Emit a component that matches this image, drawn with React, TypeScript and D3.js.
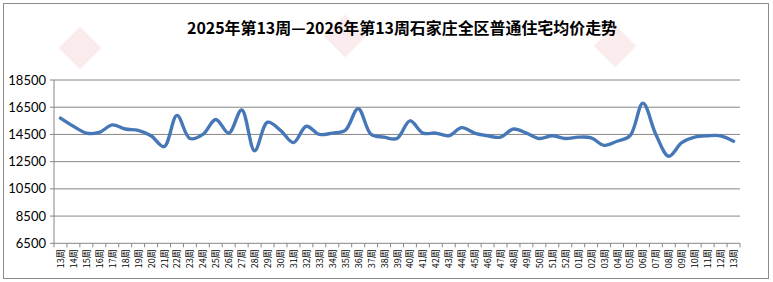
import React from "react";
import * as d3 from "d3";

const weeks: string[] = [
  "13周","14周","15周","16周","17周","18周","19周","20周","21周","22周",
  "23周","24周","25周","26周","27周","28周","29周","30周","31周","32周",
  "33周","34周","35周","36周","37周","38周","39周","40周","41周","42周",
  "43周","44周","45周","46周","47周","48周","49周","50周","51周","52周",
  "01周","02周","03周","04周","05周","06周","07周","08周","09周","10周",
  "11周","12周","13周",
];

const prices: number[] = [
  15700, 15100, 14600, 14650, 15200, 14900, 14800, 14400, 13600, 15900,
  14200, 14500, 15600, 14600, 16300, 13300, 15400, 14800, 13900, 15100,
  14500, 14600, 14800, 16400, 14500, 14300, 14200, 15500, 14600, 14600,
  14400, 15000, 14600, 14400, 14300, 14900, 14600, 14200, 14400, 14200,
  14300, 14250, 13700, 14000, 14400, 16800, 14500, 12900, 13900, 14300,
  14400, 14400, 14000,
];

const yTicks: number[] = [6500, 8500, 10500, 12500, 14500, 16500, 18500];

const title = "2025年第13周—2026年第13周石家庄全区普通住宅均价走势";

const W = 773;
const H = 282;
const plot = { left: 54, right: 740, top: 80, bottom: 243.3 };

export default function App() {
  const x = d3
    .scaleBand<string>()
    .domain(weeks.map((_, i) => String(i)))
    .range([plot.left, plot.right])
    .paddingInner(0)
    .paddingOuter(0);
  const y = d3.scaleLinear().domain([6500, 18500]).range([plot.bottom, plot.top]);
  const bw = x.bandwidth();
  const cx = (i: number) => (x(String(i)) as number) + bw / 2;

  const line = d3
    .line<number>()
    .x((_, i) => cx(i))
    .y((d) => y(d))
    .curve(d3.curveCatmullRom.alpha(0.5));

  const boundaries = d3.range(weeks.length + 1).map((i) => plot.left + i * bw);

  const marks = [
    { x: 80, y: 48 },
    { x: 345, y: 36 },
    { x: 615, y: 46 },
  ];

  return (
    <svg
      width={W}
      height={H}
      style={{ position: "absolute", left: 0, top: 0, background: "#fff" }}
      fontFamily="'Noto Sans CJK SC', 'Noto Sans', sans-serif"
    >
      <rect x={0} y={0} width={W} height={H} fill="#fff" />
      <rect x={3.5} y={3.5} width={765} height={275} fill="#fff" stroke="#8c8c8c" strokeWidth={1} />

      {/* faint watermarks */}
      {marks.map((m, k) => (
        <g key={k} transform={`translate(${m.x},${m.y})`} opacity={0.1}>
          <rect x={-15} y={-15} width={30} height={30} fill="#d9534f" transform="rotate(45)" />
        </g>
      ))}

      <text
        x={402}
        y={34}
        textAnchor="middle"
        fontSize={16}
        fontWeight="bold"
        fill="#000"
        textLength={430}
        lengthAdjust="spacingAndGlyphs"
      >
        {title}
      </text>

      {/* gridlines */}
      {yTicks.map((t) => (
        <g key={t}>
          <line x1={plot.left - 4} x2={plot.right} y1={y(t)} y2={y(t)} stroke="#868686" strokeWidth={1} />
          <text
            x={46}
            y={y(t) + 4.5}
            textAnchor="end"
            fontSize={13}
            fontFamily="Lato, 'Open Sans', sans-serif"
            fill="#000"
          >
            {t}
          </text>
        </g>
      ))}

      {/* y axis line */}
      <line x1={plot.left} x2={plot.left} y1={plot.top} y2={plot.bottom} stroke="#868686" strokeWidth={1} />

      {/* x tick marks */}
      {boundaries.map((bx, i) => (
        <line key={i} x1={bx} x2={bx} y1={plot.bottom} y2={plot.bottom + 4} stroke="#868686" strokeWidth={1} />
      ))}

      {/* x labels */}
      {weeks.map((w, i) => (
        <text
          key={i}
          transform={`translate(${cx(i) + 3.5},${plot.bottom + 6}) rotate(-90)`}
          textAnchor="end"
          fontSize={9}
          fill="#000"
        >
          {w}
        </text>
      ))}

      <path d={line(prices) || ""} fill="none" stroke="#4677b6" strokeWidth={3.4} strokeLinejoin="round" strokeLinecap="round" />
    </svg>
  );
}
